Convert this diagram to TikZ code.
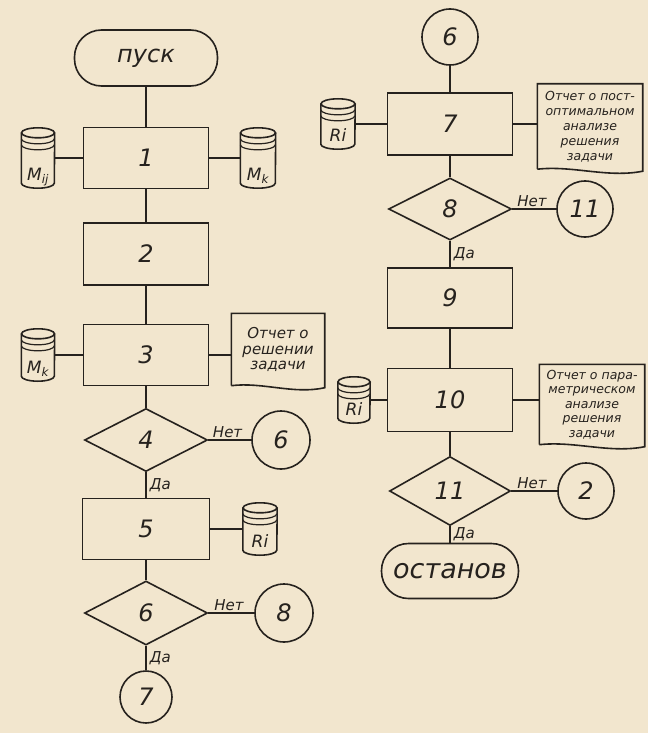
\documentclass[tikz,border=0pt]{standalone}
\usepackage{fontspec}
\setmainfont{DejaVu Sans}
\usetikzlibrary{shapes.geometric,calc}
\definecolor{paper}{RGB}{242,230,206}
\definecolor{ink}{RGB}{38,34,30}
\tikzset{
  ln/.style={draw=ink, line width=1.6pt},
  bigfont/.style={font=\fontsize{24}{26}\selectfont\itshape, text=ink},
  procbox/.style={ln, bigfont, rectangle, minimum width=125pt, minimum height=61pt, inner sep=0pt},
  decide/.style={ln, bigfont, diamond, minimum width=123pt, minimum height=63pt, inner sep=0pt},
  conn/.style={ln, bigfont, circle, minimum size=57pt, inner sep=0pt},
  term/.style={ln, rectangle, rounded corners=27pt, minimum height=56pt, inner sep=0pt, text=ink},
  drumbox/.style={rectangle, inner sep=0pt},
  drumtext/.style={font=\fontsize{17}{17}\selectfont\itshape, text=ink, inner sep=0pt},
  docbox/.style={rectangle, inner sep=0pt},
  doctext/.style={align=center, text=ink, inner sep=0pt},
  yn/.style={font=\fontsize{15}{16}\selectfont\itshape, text=ink, inner sep=1pt},
  wire/.style={ln},
}
\newcommand{\drum}[6]{%
  \node[drumbox, minimum width=#4pt, minimum height=#5pt] (#1) at (#2,#3) {};
  \draw[ln] ([yshift=-5pt]#1.north west) -- ([yshift=5pt]#1.south west)
     arc[start angle=180, end angle=360, x radius=#4pt/2, y radius=5pt]
     -- ([yshift=-5pt]#1.north east);
  \draw[ln] ([yshift=-5pt]#1.north) ellipse[x radius=#4pt/2, y radius=5pt];
  \draw[ln, line width=1.2pt] ([yshift=-11pt]#1.north west) arc[start angle=180, end angle=360, x radius=#4pt/2, y radius=5pt];
  \draw[ln, line width=1.2pt] ([yshift=-17pt]#1.north west) arc[start angle=180, end angle=360, x radius=#4pt/2, y radius=5pt];
  \node[drumtext, anchor=base] at ([yshift=8pt]#1.south) {#6};
}
\newcommand{\docum}[7]{%
  \node[docbox, minimum width=#4pt, minimum height=#5pt] (#1) at (#2,#3) {};
  \draw[ln] ([yshift=5pt]#1.south west) -- (#1.north west) -- (#1.north east) -- ([yshift=3pt]#1.south east)
     .. controls ([xshift=-#4pt/3, yshift=-4pt]#1.south east) and ([xshift=#4pt/3, yshift=9pt]#1.south west) .. ([yshift=5pt]#1.south west);
  \node[doctext, #7] at ($(#1.north)!0.47!(#1.south)$) {#6};
}
\begin{document}
\begin{tikzpicture}[x=1pt, y=-1pt]
\fill[paper] (0,0) rectangle (648,733);
\useasboundingbox (0,0) rectangle (648,733);

% ---------- left column ----------
\node[term, minimum width=143pt, font=\fontsize{24}{26}\selectfont\itshape] (start) at (146,58) {пуск};
\node[procbox] (b1) at (146,158) {1};
\drum{mij}{38}{158}{33}{60}{M\textsubscript{ij}}
\drum{mka}{258}{158}{35}{60}{M\textsubscript{k}}
\node[procbox, minimum height=62pt] (b2) at (146,254) {2};
\node[procbox] (b3) at (146,355) {3};
\drum{mkb}{38}{355}{33}{52}{M\textsubscript{k}}
\docum{doc3}{278}{352}{93}{77}{Отчет о\\решении\\задачи}{font=\fontsize{15}{15.5}\selectfont\itshape}
\node[decide] (d4) at (146,440) {4};
\node[conn, minimum size=58pt] (c6) at (281,440) {6};
\node[procbox, minimum width=127pt] (b5) at (146,529) {5};
\drum{ri1}{260}{529}{34}{52}{Ri}
\node[decide, minimum height=64pt] (d6) at (146,613) {6};
\node[conn, minimum size=58pt] (c8) at (284,613) {8};
\node[conn, minimum size=52pt] (c7) at (146,697) {7};

\draw[wire] (start) -- (b1);
\draw[wire] (mij.east) -- (b1.west);
\draw[wire] (b1.east) -- (mka.west);
\draw[wire] (b1) -- (b2);
\draw[wire] (b2) -- (b3);
\draw[wire] (mkb.east) -- (b3.west);
\draw[wire] (b3.east) -- (b3.east -| doc3.west);
\draw[wire] (b3) -- (d4);
\draw[wire] (d4.east) -- node[yn, above, pos=0.45] {Нет} (c6.west);
\draw[wire] (d4.south) -- node[yn, right, pos=0.5, xshift=2pt] {Да} (b5.north);
\draw[wire] (b5.east) -- (ri1.west);
\draw[wire] (b5) -- (d6);
\draw[wire] (d6.east) -- node[yn, above, pos=0.45] {Нет} (c8.west);
\draw[wire] (d6.south) -- node[yn, right, pos=0.5, xshift=2pt] {Да} (c7.north);

% ---------- right column ----------
\node[conn, minimum size=56pt] (c6b) at (450,37) {6};
\node[procbox, minimum height=62pt] (b7) at (450,124) {7};
\drum{ri2}{338}{124}{34}{50}{Ri}
\docum{doc7}{590}{129}{105}{90}{Отчет о пост-\\оптимальном\\анализе\\решения\\задачи}{font=\fontsize{12.5}{15}\selectfont\itshape}
\node[decide, minimum height=62pt] (d8) at (450,209) {8};
\node[conn, minimum size=56pt] (c11) at (585,209) {11};
\node[procbox, minimum height=60pt] (b9) at (450,298) {9};
\node[procbox, minimum height=63pt] (b10) at (450,400) {10};
\drum{ri3}{354}{400}{32}{46}{Ri}
\docum{doc10}{592}{407}{105}{85}{Отчет о пара-\\метрическом\\анализе\\решения\\задачи}{font=\fontsize{12.5}{14.5}\selectfont\itshape}
\node[decide, minimum width=121pt, minimum height=69pt] (d11) at (450,491) {11};
\node[conn, minimum size=56pt] (c2) at (586,491) {2};
\node[term, minimum width=137pt, minimum height=55pt, font=\fontsize{27}{29}\selectfont\itshape] (stop) at (450,571) {останов};

\draw[wire] (c6b) -- (b7);
\draw[wire] (ri2.east) -- (b7.west);
\draw[wire] (b7.east) -- (b7.east -| doc7.west);
\draw[wire] (b7) -- (d8);
\draw[wire] (d8.east) -- node[yn, above, pos=0.45] {Нет} (c11.west);
\draw[wire] (d8.south) -- node[yn, right, pos=0.5, xshift=2pt] {Да} (b9.north);
\draw[wire] (b9) -- (b10);
\draw[wire] (ri3.east) -- (b10.west);
\draw[wire] (b10.east) -- (b10.east -| doc10.west);
\draw[wire] (b10) -- (d11);
\draw[wire] (d11.east) -- node[yn, above, pos=0.45] {Нет} (c2.west);
\draw[wire] (d11.south) -- node[yn, right, pos=0.5, xshift=2pt] {Да} (stop.north);
\end{tikzpicture}
\end{document}
